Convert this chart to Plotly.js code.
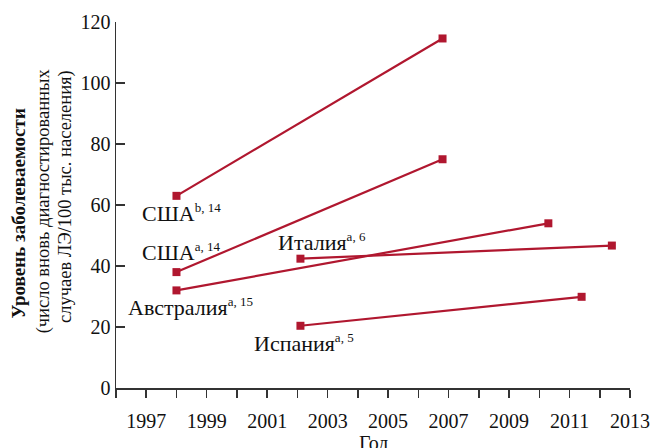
<!DOCTYPE html>
<html><head><meta charset="utf-8">
<script src="https://cdn.plot.ly/plotly-3.0.1.min.js"></script>
<style>html,body{margin:0;padding:0;background:#fff}</style>
</head><body>
<div id="chart" style="width:661px;height:448px"></div>
<script>
// Data
const usaB_years = [1998, 2006.8];
const usaB_vals = [63, 114.6];
const usaA_years = [1998, 2006.8];
const usaA_vals = [38, 75];
const australia_years = [1998, 2010.3];
const australia_vals = [32, 54];
const italy_years = [2002.1, 2012.4];
const italy_vals = [42.4, 46.7];
const spain_years = [2002.1, 2011.4];
const spain_vals = [20.4, 29.9];

const seriesNames = ['США', 'США', 'Австралия', 'Италия', 'Испания'];
const seriesNotes = ['b, 14', 'a, 14', 'a, 15', 'a, 6', 'a, 5'];
const labelX = [1996.78, 1996.78, 1996.33, 2001.3, 2000.5];
const labelY = [57.4, 44.7, 26.6, 48.0, 14.9];

const tickYears = [1996,1997,1998,1999,2000,2001,2002,2003,2004,2005,2006,2007,2008,2009,2010,2011,2012,2013];
const tickLabels = tickYears.map(y => (y % 2 === 1 ? String(y) : ''));

const xTitle = 'Год';
const yTitleLines = ['<b>Уровень заболеваемости</b>', '(число вновь диагностированных', 'случаев ЛЭ/100 тыс. населения)'];

const col = '#b0172f';
const font = 'Liberation Serif, Times New Roman, serif';

const series = [
  [usaB_years, usaB_vals],
  [usaA_years, usaA_vals],
  [australia_years, australia_vals],
  [italy_years, italy_vals],
  [spain_years, spain_vals]
];
const traces = series.map(s => ({
  x: s[0], y: s[1], type: 'scatter', mode: 'lines+markers',
  line: {color: col, width: 2.2},
  marker: {symbol: 'square', size: 8, color: col},
  showlegend: false, hoverinfo: 'skip'
}));

const annotations = seriesNames.map((t, i) => ({
  x: labelX[i], y: labelY[i], xref: 'x', yref: 'y',
  text: t + '<sup><span style="font-size:13px">' + seriesNotes[i] + '</span></sup>',
  showarrow: false, xanchor: 'left', yanchor: 'middle',
  font: {family: font, size: 22, color: '#111'}
}));
const yShifts = [-98, -73, -50];
const yCenters = [0.477, 0.51, 0.522];
const ySizes = [19, 18.5, 18.5];
yTitleLines.forEach((t, i) => annotations.push({
  xref: 'paper', yref: 'paper', x: 0, y: yCenters[i], xshift: yShifts[i],
  xanchor: 'center', yanchor: 'middle', textangle: -90, showarrow: false,
  text: t, font: {family: font, size: ySizes[i], color: '#111'}
}));
annotations.push({
  xref: 'paper', yref: 'paper', x: 0.5, y: -0.152, xanchor: 'center', yanchor: 'middle',
  showarrow: false, text: xTitle, font: {family: font, size: 20, color: '#111'}
});

const layout = {
  width: 661, height: 448,
  margin: {l: 116, r: 31, t: 22, b: 60},
  paper_bgcolor: '#fff', plot_bgcolor: '#fff',
  font: {family: font, size: 20, color: '#111'},
  xaxis: {
    range: [1996, 2013], tickmode: 'array', tickvals: tickYears, ticktext: tickLabels,
    ticks: 'outside', ticklen: 8, tickwidth: 1.5, tickcolor: '#333',
    showline: true, linecolor: '#333', linewidth: 1.5, showgrid: false, zeroline: false,
    ticklabelstandoff: 6,
    tickfont: {family: font, size: 20, color: '#111'}
  },
  yaxis: {
    range: [0, 120], tickmode: 'linear', tick0: 0, dtick: 20,
    ticks: 'inside', ticklen: 9, tickwidth: 1.5, tickcolor: '#333',
    showline: true, linecolor: '#333', linewidth: 1.5, showgrid: false, zeroline: false,
    tickfont: {family: font, size: 20, color: '#111'}
  },
  annotations: annotations
};

Plotly.newPlot('chart', traces, layout, {displayModeBar: false, staticPlot: true});
</script>
</body></html>
